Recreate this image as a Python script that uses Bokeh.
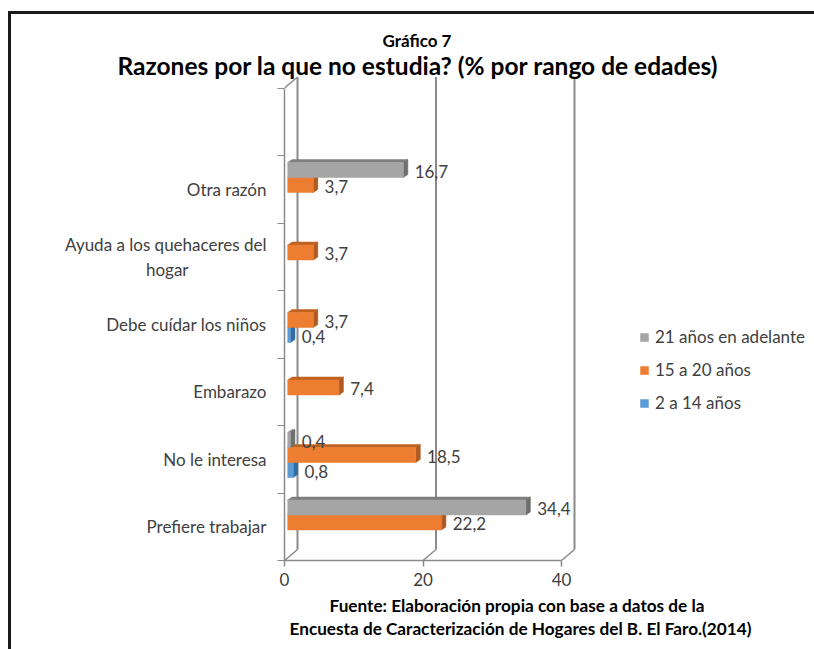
from bokeh.plotting import figure
from bokeh.models import Range1d, FixedTicker, Legend, LegendItem, Title, InlineStyleSheet
from bokeh.core.properties import value
from bokeh.embed import file_html
from bokeh.resources import INLINE

categories = ["Prefiere trabajar", "No le interesa", "Embarazo", "Debe cuídar los niños",
              "Ayuda a los quehaceres del\nhogar", "Otra razón"]
serie_21 = [34.4, 0.4, None, None, None, 16.7]
serie_15 = [22.2, 18.5, 7.4, 3.7, 3.7, 3.7]
serie_2 = [None, 0.8, None, 0.4, None, None]
x_ticks = [0, 20, 40]
title_top = "Gráfico 7"
title_main = "Razones por la que no estudia? (% por rango de edades)"
source_1 = "Fuente: Elaboración propia con base a datos de la"
source_2 = "Encuesta de Caracterización de Hogares del B. El Faro.(2014)"

W, H = 814, 649
LEFT, BOTTOM, TOP = 284, 89, 76
PX_X = 6.925
PX_Y = 67.5
FONT = "Lato"
TXT = "#404040"
WALL = "#8a8a8a"

DX = 13 / PX_X      # wall depth
DY = 11 / PX_Y
BX0 = 3.2 / PX_X    # bars start
BH = 15 / PX_Y      # bar thickness
SX = 4.5 / PX_X     # bar 3d side
SY = 3 / PX_Y       # bar 3d top
CY = 4.25 / PX_Y    # shift of the group

p = figure(width=W, height=H, output_backend="svg", toolbar_location=None,
           x_range=Range1d(0, (W - LEFT) / PX_X), y_range=Range1d(0, (H - BOTTOM - TOP) / PX_Y),
           min_border_left=LEFT, min_border_right=0, min_border_top=TOP, min_border_bottom=BOTTOM)
p.outline_line_color = None
p.grid.visible = False
p.stylesheets = [InlineStyleSheet(css=":host::before{content:'';position:absolute;left:8px;top:11px;"
                                      "right:0;bottom:0;border-left:3px solid #1a1a1a;"
                                      "border-top:3px solid #1a1a1a;pointer-events:none;z-index:5}")]

# walls
n_rows = len(categories) + 1
for t in x_ticks:
    p.line([t, t + DX], [0, DY], line_color=WALL, line_width=1.5)
    p.line([t + DX, t + DX], [DY, n_rows + DY], line_color=WALL, line_width=2)
p.line([0, DX], [n_rows, n_rows + DY], line_color=WALL, line_width=1.5)

series = [
    ("2 a 14 años", serie_2, -1, "#5B9BD5", "#2E6CA4", "#3F7FB8"),
    ("15 a 20 años", serie_15, 0, "#ED7D31", "#AE5A21", "#C0621F"),
    ("21 años en adelante", serie_21, 1, "#A5A5A5", "#6E6E6E", "#7E7E7E"),
]
legend_refs = {}
lx, ly, lt = [], [], []
for name, vals, pos, col, side, top in series:
    xs_f, ys_f, xs_s, ys_s, xs_t, ys_t = [], [], [], [], [], []
    for i, v in enumerate(vals):
        if v is None:
            continue
        yc = i + 0.5 + CY + pos * BH
        y0, y1 = yc - BH / 2, yc + BH / 2
        x0, x1 = BX0, BX0 + v
        xs_f.append([x0, x1, x1, x0]); ys_f.append([y0, y0, y1, y1])
        xs_s.append([x1, x1 + SX, x1 + SX, x1]); ys_s.append([y0, y0 + SY, y1 + SY, y1])
        xs_t.append([x0, x1, x1 + SX, x0 + SX]); ys_t.append([y1, y1, y1 + SY, y1 + SY])
        lx.append(v); ly.append(yc); lt.append(f"{v}".replace(".", ","))
    p.patches(xs_t, ys_t, fill_color=top, line_color=top, line_width=0.5)
    p.patches(xs_s, ys_s, fill_color=side, line_color=side, line_width=0.5)
    legend_refs[name] = p.patches(xs_f, ys_f, fill_color=col, line_color=col, line_width=0.5)

p.text(lx, ly, text=lt, x_offset=14.5, y_offset=1, text_align="left", text_baseline="middle",
       text_font=value(FONT), text_font_size="17px", text_color=TXT)

# axes
xa = p.xaxis[0]
xa.ticker = FixedTicker(ticks=x_ticks)
xa.bounds = (x_ticks[0], x_ticks[-1])
xa.axis_line_color = WALL
xa.axis_line_width = 1.5
xa.major_tick_line_color = WALL
xa.major_tick_line_width = 1.5
xa.major_tick_in = 0
xa.major_tick_out = 6
xa.minor_tick_line_color = None
xa.major_label_text_font = FONT
xa.major_label_text_font_size = "17px"
xa.major_label_text_color = TXT
xa.major_label_standoff = 6

ya = p.yaxis[0]
centers = [i + 0.5 for i in range(len(categories))]
ya.ticker = FixedTicker(ticks=centers, minor_ticks=list(range(n_rows + 1)))
ya.major_label_overrides = {c: t.replace("\nhogar", "\nhogar" + "\u00a0" * 18) for c, t in zip(centers, categories)}
ya.bounds = (0, n_rows)
ya.axis_line_color = WALL
ya.axis_line_width = 1.5
ya.major_tick_line_color = None
ya.major_tick_in = 0
ya.major_tick_out = 0
ya.minor_tick_line_color = WALL
ya.minor_tick_in = 0
ya.minor_tick_out = 7
ya.major_label_text_font = FONT
ya.major_label_text_font_size = "17px"
ya.major_label_text_color = TXT
ya.major_label_standoff = 11

legend = Legend(items=[LegendItem(label=value(n), renderers=[legend_refs[n]])
                       for n in ["21 años en adelante", "15 a 20 años", "2 a 14 años"]],
                location=(355, 147), orientation="vertical", background_fill_alpha=0,
                border_line_color=None, padding=0, margin=0, spacing=12,
                glyph_width=10, glyph_height=10, label_standoff=6,
                label_text_font=FONT, label_text_font_size="17px", label_text_color=TXT)
p.add_layout(legend)

def add_title(s, place, left_px, size, standoff, valign):
    p.add_layout(Title(text=s, align="left", offset=left_px - LEFT, standoff=standoff, vertical_align=valign,
                       text_font=FONT, text_font_style="bold", text_font_size=size, text_color="#000000"), place)

add_title(title_main, "above", 117, "24.5px", -7, "bottom")
add_title(title_top, "above", 382, "17px", 3, "bottom")
add_title(source_1, "below", 329, "17.2px", 12, "top")
add_title(source_2, "below", 289, "17.2px", -12, "top")

open("out.html", "w").write(file_html(p, INLINE))
